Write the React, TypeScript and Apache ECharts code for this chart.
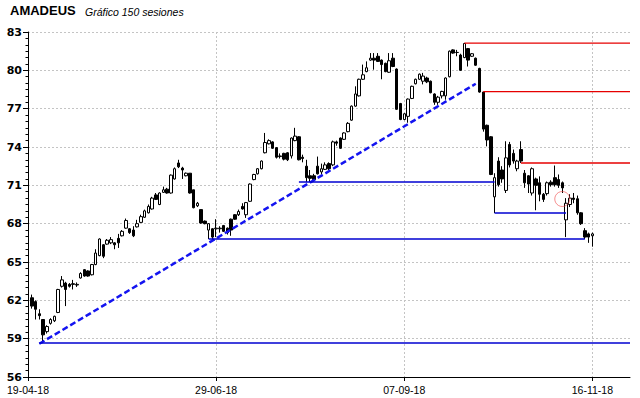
import React, { useEffect, useRef } from 'react';
import * as echarts from 'echarts';

// ---------- data ----------
const categoryCount = 161; // axis positions, 0 = left axis, sessions at 1..150
const tickIndexes = [0, 50, 100, 150];
const tickLabels = ['19-04-18', '29-06-18', '07-09-18', '16-11-18'];
const yTicks = [56, 59, 62, 65, 68, 71, 74, 77, 80, 83];
const yMinorStep = 0.5;
const firstSession = 1;

const opens = [
  62.2, 61.9, 60.95, 60.5, 59.55, 60.2, 60.4, 61.05, 63.1, 63.35,
  63.25, 63.3, 63.2, 63.75, 64.4, 64.3, 64.0, 64.8, 65.5, 66.35,
  66.4, 66.5, 66.5, 66.85, 67.05, 67.65, 67.6, 67.5, 67.75, 68.1,
  68.5, 68.85, 69.15, 70.25, 69.5, 70.45, 70.7, 70.4, 71.5, 72.75,
  72.35, 71.75, 71.95, 70.65, 69.4, 69.1, 68.2, 67.5, 67.6, 67.6,
  67.6, 67.85, 67.65, 68.35, 68.7, 68.7, 69.35, 68.7, 69.75, 71.45,
  71.9, 72.3, 73.55, 74.25, 74.4, 73.95, 73.25, 73.5, 73.55, 73.3,
  74.5, 74.8, 73.2, 72.5, 71.75, 71.75, 72.5, 72.05, 72.25, 72.7,
  72.6, 74.4, 74.7, 74.6, 75.2, 76.1, 77.2, 78.0, 79.3, 79.9,
  80.8, 80.95, 81.1, 80.8, 80.55, 79.85, 80.95, 80.1, 77.4, 76.15,
  76.4, 77.8, 78.95, 79.3, 79.15, 79.4, 79.15, 78.15, 77.5, 78.0,
  78.0, 79.5, 81.6, 81.4, 81.2, 81.0, 81.7, 81.1, 80.95, 80.15,
  78.3, 75.7, 74.8, 70.1, 72.9, 72.2, 70.6, 74.2, 73.5, 72.3,
  73.8, 71.95, 71.75, 70.4, 71.5, 71.2, 70.3, 70.35, 71.25, 71.6,
  71.45, 71.2, 68.3, 69.5, 70.0, 69.95, 68.85, 67.45, 67.2, 67.05,
];
const closes = [
  61.55, 61.3, 60.8, 59.3, 59.95, 60.5, 60.75, 62.85, 63.6, 62.85,
  63.1, 63.25, 63.25, 64.1, 63.9, 63.9, 64.8, 65.7, 66.8, 65.45,
  66.7, 66.75, 66.35, 66.5, 67.4, 68.25, 67.3, 67.05, 68.0, 68.55,
  69.0, 69.35, 70.0, 69.9, 70.4, 70.65, 70.4, 71.8, 72.3, 72.45,
  72.2, 71.95, 70.4, 69.25, 69.6, 68.05, 68.0, 68.0, 66.95, 67.65,
  67.65, 67.4, 67.3, 67.5, 68.35, 68.95, 69.15, 69.65, 71.1, 71.85,
  72.3, 72.9, 74.35, 74.5, 73.9, 73.2, 73.3, 73.05, 73.0, 74.7,
  74.85, 73.0, 73.1, 71.6, 71.55, 71.45, 71.9, 72.3, 72.6, 72.3,
  74.4, 74.3, 73.9, 75.1, 75.85, 77.2, 78.15, 79.3, 79.65, 80.2,
  80.95, 80.8, 80.7, 80.45, 79.9, 80.75, 80.3, 76.95, 76.15, 76.6,
  77.75, 78.75, 79.3, 79.7, 79.55, 79.1, 78.25, 77.5, 77.9, 78.35,
  79.4, 81.5, 81.35, 81.4, 80.0, 82.1, 80.8, 81.3, 80.4, 78.3,
  75.4, 74.55, 71.85, 71.6, 71.05, 71.5, 73.15, 72.6, 72.9, 72.9,
  72.9, 71.2, 71.1, 72.3, 71.0, 70.3, 69.9, 71.2, 71.05, 71.05,
  71.0, 70.8, 69.6, 70.0, 69.9, 68.85, 68.0, 66.95, 66.95, 67.2,
];
const lows = [
  61.35, 60.5, 60.5, 58.65, 59.4, 60.1, 60.3, 61.0, 63.0, 61.55,
  63.0, 62.85, 63.05, 63.7, 63.85, 63.85, 63.95, 64.75, 65.45, 65.3,
  66.35, 66.4, 66.0, 66.1, 67.0, 67.6, 67.2, 66.95, 67.7, 68.05,
  68.45, 68.8, 69.1, 69.85, 69.45, 70.4, 70.35, 70.35, 71.45, 72.35,
  71.5, 71.7, 70.35, 69.2, 69.3, 68.0, 67.95, 66.8, 66.8, 66.95,
  67.3, 67.35, 67.15, 67.05, 68.3, 68.6, 69.1, 68.45, 69.7, 71.4,
  71.85, 72.25, 73.5, 74.2, 73.85, 73.1, 73.1, 72.95, 72.9, 73.1,
  74.45, 72.95, 72.8, 71.25, 71.25, 71.3, 71.85, 71.85, 72.2, 72.2,
  72.5, 74.1, 73.85, 74.55, 75.15, 76.05, 77.15, 77.95, 79.25, 79.85,
  80.75, 80.05, 80.65, 79.3, 79.85, 79.8, 80.25, 76.9, 76.1, 76.1,
  75.9, 77.75, 78.9, 79.25, 78.9, 79.0, 78.2, 77.3, 77.3, 77.8,
  77.7, 79.45, 81.3, 81.1, 79.95, 80.95, 80.3, 81.05, 80.35, 78.25,
  75.2, 74.05, 71.8, 68.83, 70.9, 71.2, 70.4, 72.4, 72.7, 72.1,
  72.75, 70.8, 70.4, 70.2, 69.05, 69.75, 69.7, 70.2, 70.9, 70.9,
  70.8, 70.4, 66.95, 69.3, 69.6, 68.7, 67.9, 66.8, 66.5, 66.2,
];
const highs = [
  62.45, 62.0, 61.3, 60.5, 60.05, 60.6, 60.8, 62.9, 63.9, 63.45,
  63.35, 63.6, 63.4, 64.2, 64.45, 64.35, 64.85, 66.0, 66.85, 66.4,
  66.8, 66.95, 66.55, 67.2, 67.5, 68.4, 67.65, 67.8, 68.3, 68.7,
  69.1, 69.5, 70.1, 70.4, 70.45, 70.9, 70.8, 71.85, 72.4, 73.0,
  72.45, 72.0, 71.95, 70.65, 69.7, 69.1, 68.25, 68.05, 67.65, 68.35,
  67.8, 67.9, 67.7, 68.4, 68.75, 69.1, 69.6, 69.7, 71.15, 71.9,
  72.35, 72.95, 75.1, 74.6, 74.45, 74.0, 73.5, 73.55, 73.6, 74.75,
  75.5, 74.85, 73.4, 73.0, 72.2, 71.9, 73.25, 72.7, 72.8, 72.8,
  74.5, 74.5, 74.75, 75.15, 75.95, 77.25, 78.75, 79.35, 80.45, 80.7,
  81.35, 81.35, 81.35, 80.85, 80.6, 81.35, 81.35, 80.15, 77.45, 76.65,
  77.8, 78.8, 79.35, 79.75, 79.8, 79.5, 79.2, 78.2, 78.0, 78.4,
  79.45, 81.55, 81.65, 81.6, 81.3, 82.15, 81.75, 81.35, 81.0, 80.2,
  78.3, 75.75, 74.85, 71.95, 73.2, 72.5, 74.45, 74.4, 73.8, 73.0,
  74.45, 72.2, 71.8, 72.4, 71.6, 71.7, 70.4, 71.3, 71.4, 72.55,
  71.85, 71.3, 70.0, 70.3, 70.4, 70.2, 68.9, 67.65, 67.3, 67.3,
];

// analysis lines: [startIndex, startValue, endIndex, endValue]
const trendLine = [3, 58.6, 119, 78.95];
const blueLevels = [
  [3, 58.66, 160, 58.66],
  [48, 66.8, 148, 66.8],
  [72, 71.26, 124, 71.26],
  [124, 68.83, 143, 68.83],
];
const redLevels = [
  [116, 82.13, 160, 82.13],
  [121, 78.33, 160, 78.33],
  [131, 72.75, 160, 72.75],
];
const circleMark = [142, 69.93];

// ---------- component ----------
export default function App() {
  const ref = useRef<HTMLDivElement>(null);

  useEffect(() => {
    if (!ref.current) return;
    const chart = echarts.init(ref.current, undefined, { renderer: 'svg' });

    const categories = Array.from({ length: categoryCount }, (_, i) => String(i));
    const candles = opens.map((o, k) => [k + firstSession, o, closes[k], lows[k], highs[k]]);
    const isTick = (i: number) => tickIndexes.includes(i);

    const lineSeries = (seg: number[], color: string, width: number, type: any) => ({
      type: 'line',
      data: [[seg[0], seg[1]], [seg[2], seg[3]]],
      showSymbol: false,
      symbol: 'none',
      silent: true,
      z: 5,
      lineStyle: { color, width, type },
    });

    chart.setOption({
      animation: false,
      backgroundColor: '#ffffff',
      textStyle: { fontFamily: 'Liberation Sans, Arial, sans-serif' },
      grid: { left: 28, right: 10, top: 32, bottom: 21, containLabel: false },
      graphic: [
        {
          type: 'text', left: 10, top: 4,
          style: { text: 'AMADEUS', font: 'bold 13px "Liberation Sans", Arial, sans-serif', fill: '#000' },
        },
        {
          type: 'text', left: 85, top: 6,
          style: { text: 'Gráfico 150 sesiones', font: 'italic 10.5px "Liberation Sans", Arial, sans-serif', fill: '#000' },
        },
      ],
      xAxis: {
        type: 'category',
        data: categories,
        boundaryGap: false,
        axisLine: { show: true, lineStyle: { color: '#000', width: 1 } },
        axisTick: { show: true, length: 4, interval: (i: number) => isTick(i), lineStyle: { color: '#000' } },
        axisLabel: {
          interval: (i: number) => isTick(i),
          formatter: (v: string) => {
            const k = tickIndexes.indexOf(Number(v));
            return k >= 0 ? tickLabels[k] : '';
          },
          margin: 7,
          color: '#000',
          fontSize: 10.5,
          fontFamily: 'Liberation Sans, Arial, sans-serif',
        },
        splitLine: {
          show: true,
          interval: (i: number) => isTick(i) && i > 0,
          lineStyle: { color: '#c4c4c4', type: [2, 2], width: 1 },
        },
      },
      yAxis: [
        {
          type: 'value',
          min: yTicks[0],
          max: yTicks[yTicks.length - 1],
          position: 'left',
          axisLine: { show: true, lineStyle: { color: '#000', width: 1 } },
          axisTick: { show: true, length: 5, customValues: yTicks, lineStyle: { color: '#000' } },
          axisLabel: {
            customValues: yTicks,
            margin: 6,
            color: '#000',
            fontWeight: 'bold',
            fontSize: 11,
            fontFamily: 'DejaVu Sans, Verdana, sans-serif',
          },
          splitLine: { show: true, lineStyle: { color: '#c4c4c4', type: [2, 2], width: 1 } },
        },
        {
          type: 'value',
          min: yTicks[0],
          max: yTicks[yTicks.length - 1],
          interval: yMinorStep,
          position: 'left',
          offset: 0,
          axisLine: { show: false },
          axisTick: { show: true, length: 2.5, lineStyle: { color: '#000' } },
          axisLabel: { show: false },
          splitLine: { show: false },
        },
      ],
      series: [
        {
          type: 'candlestick',
          data: candles,
          encode: { x: 0, y: [1, 2, 3, 4] },
          barWidth: 3,
          z: 3,
          itemStyle: {
            color: '#ffffff',
            color0: '#000000',
            borderColor: '#000000',
            borderColor0: '#000000',
            borderColorDoji: '#000000',
            borderWidth: 1,
          },
        },
        lineSeries(trendLine, '#1414f0', 2.5, [6, 3]),
        ...blueLevels.map((s) => lineSeries(s, '#0000d0', 1.4, 'solid')),
        ...redLevels.map((s) => lineSeries(s, '#e60000', 1.4, 'solid')),
        {
          type: 'scatter',
          data: [circleMark],
          symbol: 'circle',
          symbolSize: 15,
          silent: true,
          z: 6,
          itemStyle: { color: 'rgba(0,0,0,0)', borderColor: 'rgba(240,70,70,0.75)', borderWidth: 1 },
        },
      ],
    });

    return () => chart.dispose();
  }, []);

  return (
    <div
      ref={ref}
      style={{ position: 'fixed', left: 0, top: 0, width: 640, height: 398, background: '#fff' }}
    />
  );
}
